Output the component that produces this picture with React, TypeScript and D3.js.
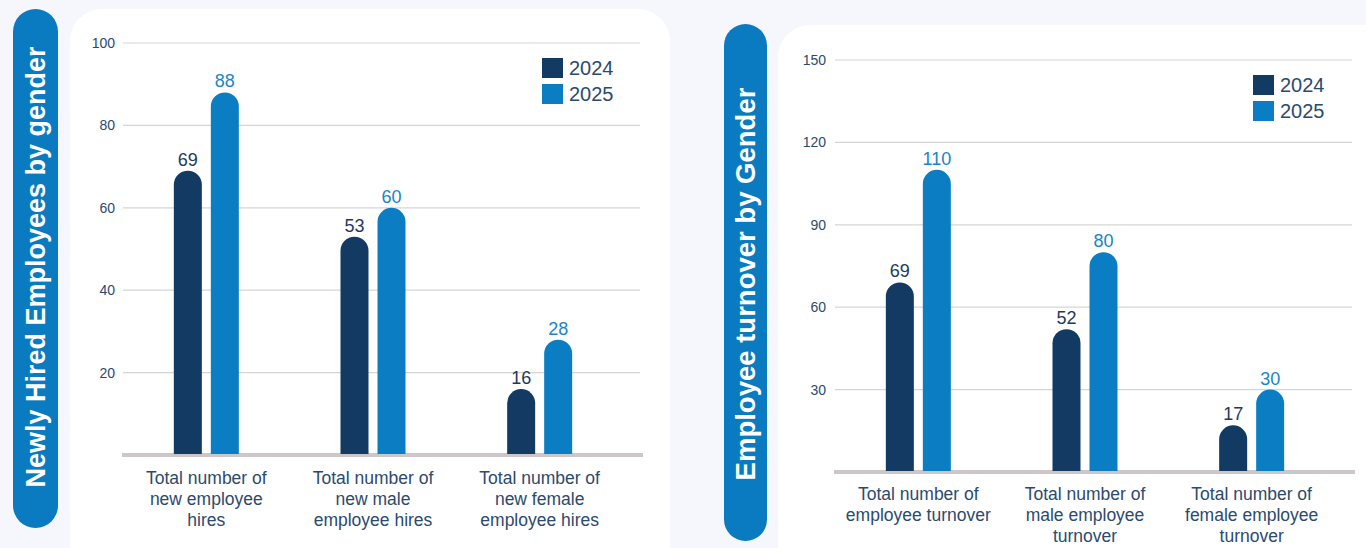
import React from "react";
import * as d3 from "d3";

const years = ["2024", "2025"];

const hireCategories = [
  ["Total number of", "new employee", "hires"],
  ["Total number of", "new male", "employee hires"],
  ["Total number of", "new female", "employee hires"],
];
const hires2024 = [69, 53, 16];
const hires2025 = [88, 60, 28];
const hireTicks = [20, 40, 60, 80, 100];

const turnoverCategories = [
  ["Total number of", "employee turnover"],
  ["Total number of", "male employee", "turnover"],
  ["Total number of", "female employee", "turnover"],
];
const turnover2024 = [69, 52, 17];
const turnover2025 = [110, 80, 30];
const turnoverTicks = [30, 60, 90, 120, 150];

const DARK = "#133a63";
const BLUE = "#0b7ec3";
const DARK_LABEL = "#1d3a5e";
const BLUE_LABEL = "#1985c8";
const TEXT = "#2c4a6d";
const GRID = "#d8d4d4";
const BASE = "#cdc7c7";
const FONT = "'Liberation Sans', Arial, sans-serif";

function roundTopBar(x: number, y: number, w: number, y0: number) {
  const r = Math.min(w / 2, Math.max(0, y0 - y));
  return `M${x},${y0}V${y + r}A${r},${r} 0 0 1 ${x + w},${y + r}V${y0}Z`;
}

type PanelProps = {
  cats: string[][];
  s1: number[];
  s2: number[];
  ticks: number[];
  yMax: number;
  yTop: number;
  yBase: number;
  gridX0: number;
  gridX1: number;
  bandX0: number;
  bandX1: number;
  tickX: number;
  legendX: number;
  legendY: number;
  catY: number;
};

function Panel(p: PanelProps) {
  const y = d3.scaleLinear().domain([0, p.yMax]).range([p.yBase, p.yTop]);
  const x = d3
    .scaleBand<number>()
    .domain(p.cats.map((_, i) => i))
    .range([p.bandX0, p.bandX1])
    .padding(0);
  const inner = d3
    .scaleBand<number>()
    .domain([0, 1])
    .range([-32.5, 32.5])
    .paddingInner(9 / 37)
    .paddingOuter(0);
  const series = [p.s1, p.s2];
  const colors = [DARK, BLUE];
  const labelColors = [DARK_LABEL, BLUE_LABEL];
  return (
    <g>
      {p.ticks.map((t) => (
        <g key={t}>
          <line x1={p.gridX0} x2={p.gridX1} y1={y(t)} y2={y(t)} stroke={GRID} strokeWidth={1.2} />
          <text
            x={p.tickX}
            y={y(t)}
            dy="0.35em"
            textAnchor="end"
            fontSize={14}
            fill={TEXT}
            fontFamily={FONT}
          >
            {t}
          </text>
        </g>
      ))}
      <line x1={p.gridX0 - 1} x2={p.gridX1 + 3} y1={p.yBase} y2={p.yBase} stroke={BASE} strokeWidth={4} />
      {p.cats.map((c, i) => {
        const cx = (x(i) as number) + x.bandwidth() / 2;
        return (
          <g key={i}>
            {series.map((s, j) => {
              const bx = cx + (inner(j) as number);
              const bw = inner.bandwidth();
              const top = y(s[i]);
              return (
                <g key={j}>
                  <path d={roundTopBar(bx, top, bw, p.yBase - 1)} fill={colors[j]} />
                  <text
                    x={bx + bw / 2}
                    y={top - 5}
                    textAnchor="middle"
                    fontSize={18}
                    fill={labelColors[j]}
                    fontFamily={FONT}
                  >
                    {s[i]}
                  </text>
                </g>
              );
            })}
            <text textAnchor="middle" fontSize={17.5} fill={TEXT} fontFamily={FONT}>
              {c.map((line, k) => (
                <tspan key={k} x={cx} y={p.catY + k * 21}>
                  {line}
                </tspan>
              ))}
            </text>
          </g>
        );
      })}
      {years.map((yr, j) => (
        <g key={yr}>
          <rect x={p.legendX} y={p.legendY + j * 26} width={21} height={20} fill={colors[j]} />
          <text
            x={p.legendX + 27}
            y={p.legendY + j * 26 + 10}
            dy="0.35em"
            fontSize={20}
            fill={TEXT}
            fontFamily={FONT}
          >
            {yr}
          </text>
        </g>
      ))}
    </g>
  );
}

export default function App() {
  return (
    <svg
      width={1366}
      height={548}
      style={{ position: "absolute", left: 0, top: 0, display: "block" }}
    >
      <rect x={0} y={0} width={1366} height={548} fill="#f6f7fc" />
      <rect x={70} y={9} width={600} height={580} rx={32} fill="#ffffff" />
      <rect x={778} y={25} width={640} height={580} rx={32} fill="#ffffff" />

      <rect x={13} y={9} width={45} height={519} rx={22.5} fill="#0a7bc1" />
      <text
        transform="translate(35.5,267) rotate(-90)"
        textAnchor="middle"
        dy="0.35em"
        fontSize={27}
        fontWeight="bold"
        fill="#ffffff"
        fontFamily={FONT}
      >
        Newly Hired Employees by gender
      </text>

      <rect x={724} y={24} width={43} height={517} rx={21.5} fill="#0a7bc1" />
      <text
        transform="translate(745.5,284) rotate(-90)"
        textAnchor="middle"
        dy="0.35em"
        fontSize={27.5}
        fontWeight="bold"
        fill="#ffffff"
        fontFamily={FONT}
      >
        Employee turnover by Gender
      </text>

      <Panel
        cats={hireCategories}
        s1={hires2024}
        s2={hires2025}
        ticks={hireTicks}
        yMax={100}
        yTop={43}
        yBase={455}
        gridX0={123}
        gridX1={640}
        bandX0={123}
        bandX1={623}
        tickX={115}
        legendX={542}
        legendY={58}
        catY={484}
      />
      <Panel
        cats={turnoverCategories}
        s1={turnover2024}
        s2={turnover2025}
        ticks={turnoverTicks}
        yMax={150}
        yTop={60}
        yBase={472}
        gridX0={835}
        gridX1={1352}
        bandX0={835}
        bandX1={1335}
        tickX={826}
        legendX={1253}
        legendY={75}
        catY={500}
      />
    </svg>
  );
}
